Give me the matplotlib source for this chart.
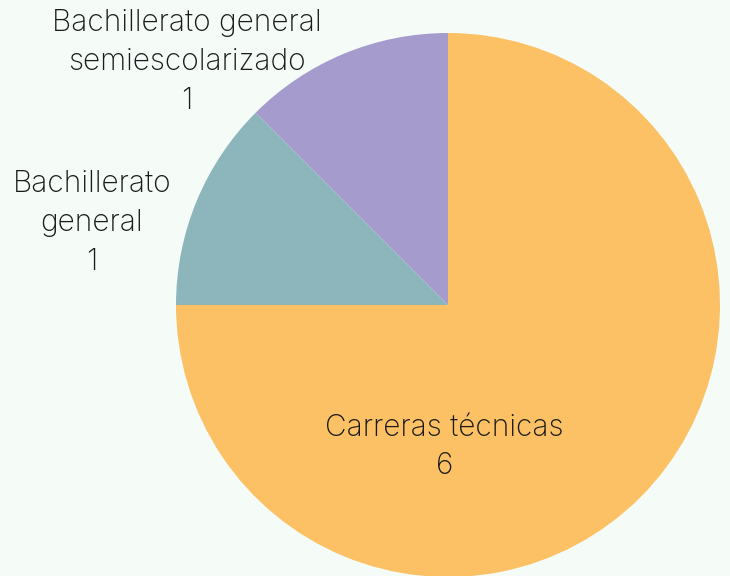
import matplotlib
matplotlib.use('Agg')
import matplotlib.pyplot as plt

# data
categories = ['Carreras técnicas', 'Bachillerato general', 'Bachillerato general semiescolarizado']
values = [6, 1, 1]
label_texts = ['Carreras técnicas\n6', 'Bachillerato\ngeneral\n1', 'Bachillerato general\nsemiescolarizado\n1']
colors = ['#FBC164', '#8DB6BC', '#A59BCC']

plt.rcParams['font.family'] = ['Inter', 'DejaVu Sans']

fig = plt.figure(figsize=(7.3, 5.76), dpi=100)
fig.patch.set_facecolor('#F5FCF8')
ax = fig.add_axes([0, 0, 1, 1])
ax.set_facecolor('#F5FCF8')

ax.pie(values, colors=colors, startangle=90, counterclock=False, radius=1,
       wedgeprops={'linewidth': 0})

# label positions (pie radius = 1)
label_pos = [(-0.012, -0.522), (-1.309, 0.301), (-0.959, 0.893)]
for txt, (x, y) in zip(label_texts, label_pos):
    ax.text(x, y, txt, ha='center', va='center', fontsize=21.5, fontweight='light',
            color='#1a1a1a', linespacing=1.5)

ax.set_aspect('equal')
ax.set_xlim(-448 / 272, (730 - 448) / 272)
ax.set_ylim(-(576 - 305) / 272, 305 / 272)
ax.axis('off')

fig.savefig('out.png', dpi=100, facecolor=fig.get_facecolor())
